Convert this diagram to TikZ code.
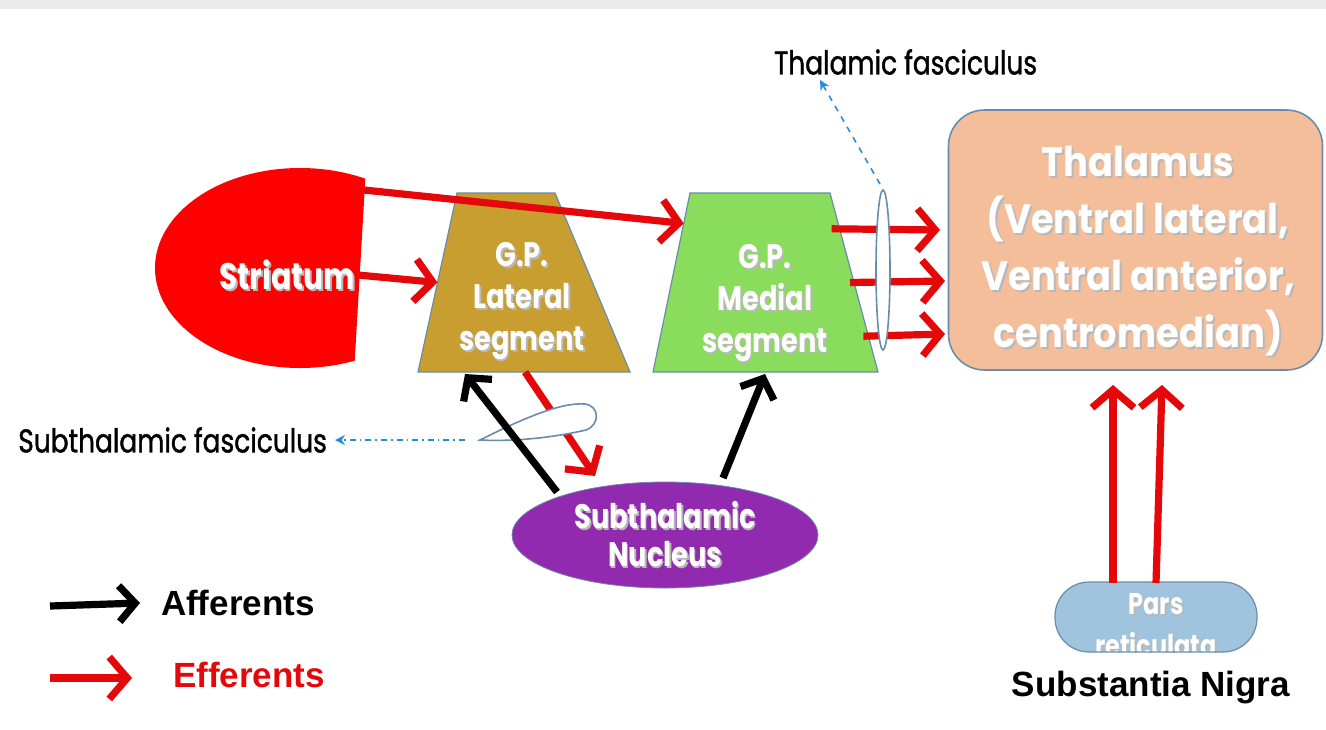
\documentclass[tikz,border=0pt]{standalone}
\usepackage{fontspec}
\setmainfont{Poppins}
\newfontfamily\futfont[FakeStretch=0.8]{Poppins}
\newfontfamily\futwide[FakeStretch=0.9]{Poppins}
\newfontfamily\futmed[FakeStretch=0.8,FakeBold=1.2]{Poppins}
\newfontfamily\arialfont{Liberation Sans}
\usetikzlibrary{arrows.meta,shapes.geometric,calc}
\definecolor{effred}{RGB}{228,8,10}
\definecolor{strred}{RGB}{255,0,0}
\definecolor{gplat}{RGB}{200,158,48}
\definecolor{gpmed}{RGB}{137,220,92}
\definecolor{thalcol}{RGB}{244,190,155}
\definecolor{stncol}{RGB}{145,42,175}
\definecolor{parscol}{RGB}{160,195,222}
\definecolor{edgecol}{RGB}{105,140,170}
\definecolor{fasblue}{RGB}{40,140,220}
\newcommand{\shd}[1]{\leavevmode\rlap{\kern0.05em\raisebox{-0.05em}{\textcolor{black!28}{#1}}}#1}

\begin{document}
\begin{tikzpicture}[x=0.5pt,y=-0.5pt,
    eff/.style={effred, line width=3.6pt, -{Straight Barb[length=9pt,width=21pt]}},
    aff/.style={black, line width=3.6pt, -{Straight Barb[length=8pt,width=18pt]}},
    fas/.style={fasblue, line width=0.8pt, -{Stealth[length=5pt,width=5pt]}},
    whitetext/.style={text=white, align=center, font=\futfont\bfseries\fontsize{17}{21}\selectfont},
    blacktext/.style={text=black, font=\futmed\fontsize{16.5}{18}\selectfont},
    legendtext/.style={font=\arialfont\bfseries\fontsize{17.5}{20}\selectfont}]
  \useasboundingbox (0,0) rectangle (1326,729);
  \fill[black!8] (0,0) rectangle (1326,9);

  % striatum
  \begin{scope}
    \clip (140,150) -- (367,150) -- (353,390) -- (140,390) -- cycle;
    \fill[strred] (300,268) ellipse (145 and 100);
  \end{scope}
  \node[whitetext, font=\futfont\bfseries\fontsize{18.5}{21}\selectfont] (striatum) at (287,276) {\shd{Striatum}};
  \coordinate (str-top) at (364,190);
  \coordinate (str-mid) at (358,275);

  % globus pallidus
  \coordinate (lat-tl) at (457,193); \coordinate (lat-tr) at (555,193);
  \coordinate (lat-br) at (630,372); \coordinate (lat-bl) at (418,372);
  \coordinate (med-tl) at (690,193); \coordinate (med-tr) at (830,193);
  \coordinate (med-br) at (878,372); \coordinate (med-bl) at (653,372);
  \filldraw[fill=gplat, draw=edgecol, line width=0.6pt] (lat-tl) -- (lat-tr) -- (lat-br) -- (lat-bl) -- cycle;
  \filldraw[fill=gpmed, draw=edgecol, line width=0.6pt] (med-tl) -- (med-tr) -- (med-br) -- (med-bl) -- cycle;
  \node[whitetext] (gplat) at (522,302) {\shd{G.P.}\\\shd{Lateral}\\\shd{segment}};
  \node[whitetext] (gpmed) at (765,304) {\shd{G.P.}\\\shd{Medial}\\\shd{segment}};

  % thalamus
  \node[draw=edgecol, fill=thalcol, line width=0.8pt, rounded corners=18pt,
        minimum width=187pt, minimum height=130pt] (thal) at (1135.5,240) {};
  \node[whitetext, font=\futwide\bfseries\fontsize{20.5}{28.5}\selectfont] (thaltext) at (1138,252)
        {\shd{Thalamus}\\\shd{(Ventral lateral,}\\\shd{Ventral anterior,}\\\shd{centromedian)}};

  % subthalamic nucleus
  \node[ellipse, draw=edgecol, fill=stncol, minimum width=153pt, minimum height=53pt,
        inner sep=0pt, whitetext, font=\futfont\bfseries\fontsize{17}{19}\selectfont] (stn) at (665,535)
        {\shd{Subthalamic}\\\shd{Nucleus}};

  % substantia nigra
  \begin{scope}
    \clip[rounded corners=17pt] (1055,582) rectangle (1257,652);
    \fill[parscol] (1055,582) rectangle (1257,652);
    \node[whitetext, font=\futfont\bfseries\fontsize{15}{21}\selectfont] (pars) at (1156,626) {\shd{Pars}\\\shd{reticulata}};
  \end{scope}
  \draw[edgecol, line width=0.6pt, rounded corners=17pt] (1055,582) rectangle (1257,652);
  \node[legendtext] (nigra) at (1151,688) {Substantia Nigra};

  % efferents
  \draw[eff] (str-top) -- ($(med-tl)!0.17!(med-bl)$);
  \draw[eff] (str-mid) -- ($(lat-tl)!0.5!(lat-bl)$);
  \draw[eff] ($(med-tr)!0.2!(med-br)$) ++(-8,0) -- (940,230);
  \draw[eff] ($(med-tr)!0.5!(med-br)$) ++(-4,0) -- (945,281);
  \draw[eff] ($(med-tr)!0.8!(med-br)$) ++(-5,0) -- (945,334);
  \draw[eff] (lat-bl) ++(107,0) -- (595,476);
  \draw[eff] (1113,583) -- (1113,385);
  \draw[eff] (1156,583) -- (1162,385);

  % fasciculi
  \filldraw[fill=white, draw=edgecol, line width=0.8pt] (883,270) ellipse (7 and 80);
  \filldraw[fill=white, draw=edgecol, line width=0.8pt] (480,440)
    .. controls (520,420) and (560,402) .. (585,404)
    .. controls (600,406) and (600,425) .. (586,430)
    .. controls (560,436) and (520,442) .. cycle;
  \draw[fas, dashed] (880,184) -- (820,80);
  \draw[fas, dash dot] (465,440) -- (335,440);
  \node[blacktext, anchor=west] (thfas) at (767,62) {Thalamic fasciculus};
  \node[blacktext, anchor=east] (stfas) at (334,440) {Subthalamic fasciculus};

  % afferents
  \draw[aff] (557,492) -- (465,374);
  \draw[aff] (723,478) -- (765,374);

  % legend
  \draw[aff] (50,606) -- (140,603);
  \node[legendtext, anchor=west] (aflab) at (154,603) {Afferents};
  \draw[eff] (50,678) -- (132,678);
  \node[legendtext, anchor=west, text=effred] (eflab) at (166,675) {Efferents};
\end{tikzpicture}
\end{document}
